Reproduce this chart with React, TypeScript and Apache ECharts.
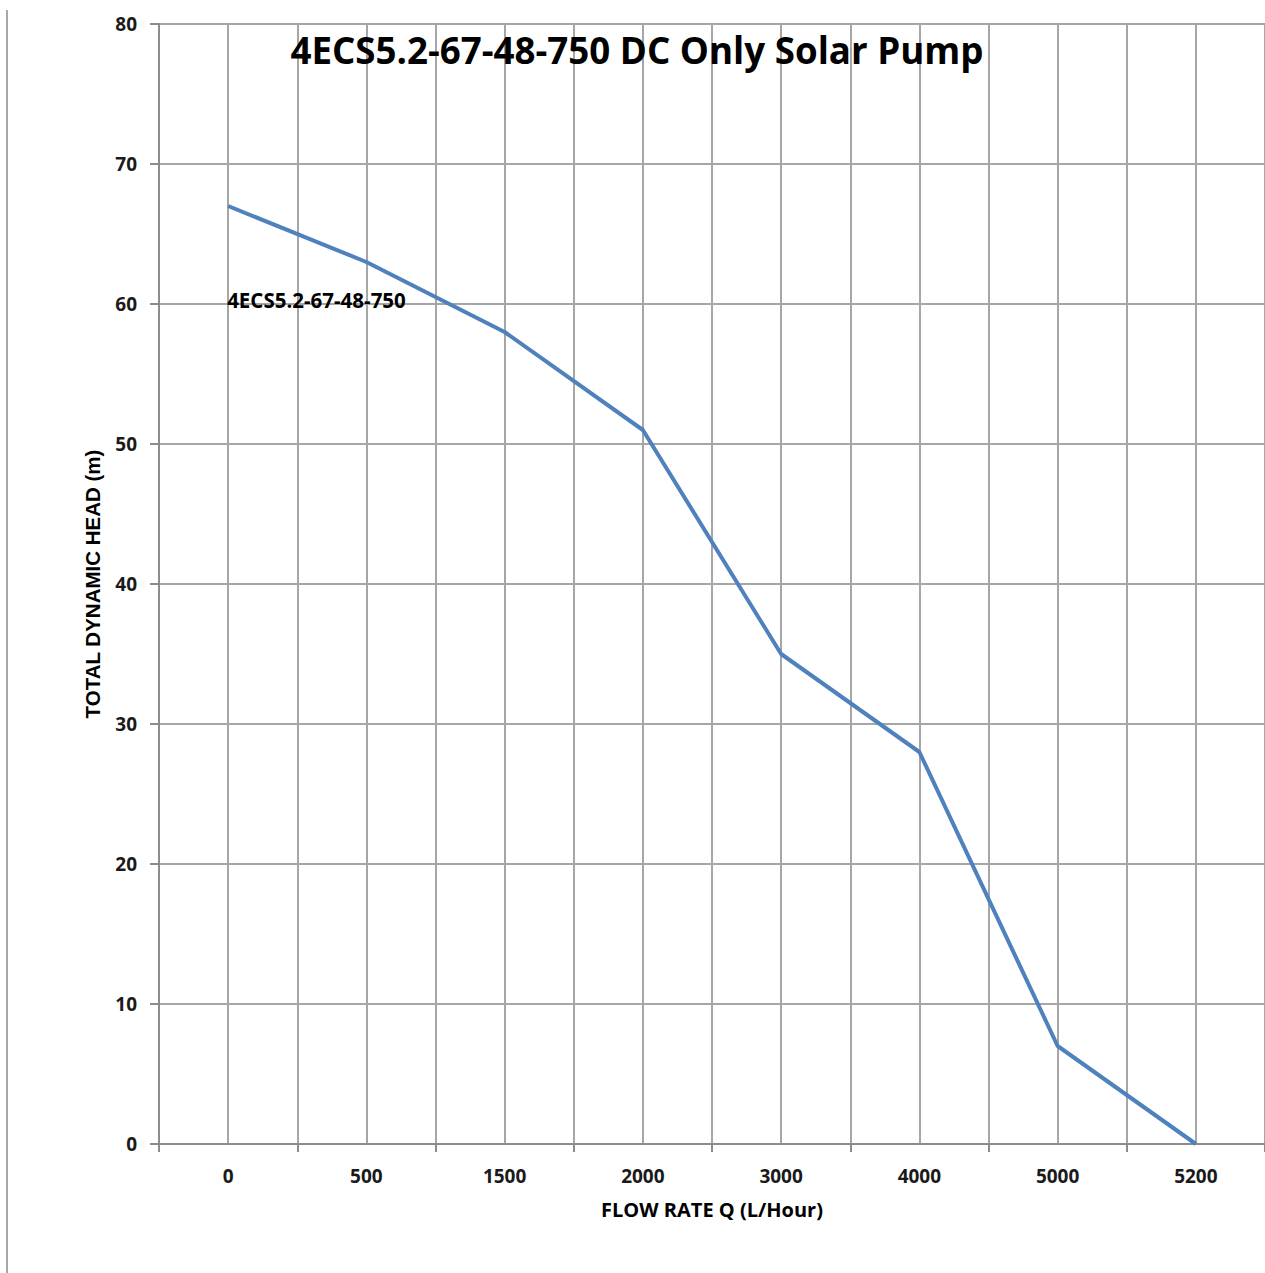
import React, { useEffect, useRef } from "react";
import * as echarts from "echarts";

const flowLabels = ["0", "500", "1500", "2000", "3000", "4000", "5000", "5200"];
const headValues = [67, 63, 58, 51, 35, 28, 7, 0];
const seriesName = "4ECS5.2-67-48-750";
const titleText = "4ECS5.2-67-48-750 DC Only Solar Pump";
const xName = "FLOW RATE Q (L/Hour)";
const yName = "TOTAL DYNAMIC HEAD (m)";

export default function App() {
  const ref = useRef<HTMLDivElement>(null);
  useEffect(() => {
    const chart = echarts.init(ref.current!, undefined, { renderer: "svg" });
    const gridColor = "#a6a6a6";
    const labelFont = { fontFamily: "Open Sans", fontWeight: "bold" as const, fontSize: 19, color: "#1a1a1a" };
    chart.setOption({
      animation: false,
      backgroundColor: "#ffffff",
      title: {
        text: titleText,
        left: 632,
        top: 26,
        textAlign: "center",
        textStyle: { fontFamily: "Open Sans", fontWeight: "bold", fontSize: 36.7, color: "#000" },
      },
      graphic: [
        { type: "line", shape: { x1: 7, y1: 10, x2: 7, y2: 1273 }, style: { stroke: "#a9a9a9", lineWidth: 2 } },
      ],
      grid: { left: 159, right: -1, top: 24, bottom: 129, containLabel: false },
      xAxis: [
        {
          type: "category",
          data: flowLabels,
          boundaryGap: true,
          axisLine: { show: true, lineStyle: { color: "#8c8c8c", width: 2 } },
          axisTick: { show: true, length: 8, lineStyle: { color: "#8c8c8c", width: 2 } },
          axisLabel: { ...labelFont, margin: 22 },
          splitLine: { show: false },
          name: xName,
          nameLocation: "middle",
          nameGap: 55,
          nameTextStyle: { fontFamily: "Open Sans", fontWeight: "bold", fontSize: 20, color: "#000" },
        },
        {
          type: "value",
          min: 0,
          max: flowLabels.length * 2,
          interval: 1,
          show: true,
          position: "bottom",
          axisLine: { show: false },
          axisTick: { show: false },
          axisLabel: { show: false },
          splitLine: { show: true, lineStyle: { color: gridColor, width: 2 } },
        },
      ],
      yAxis: {
        type: "value",
        min: 0,
        max: 80,
        interval: 10,
        axisLine: { show: true, lineStyle: { color: "#8c8c8c", width: 2 } },
        axisTick: { show: true, length: 9, lineStyle: { color: "#8c8c8c", width: 2 } },
        axisLabel: { ...labelFont, margin: 22 },
        splitLine: { show: true, lineStyle: { color: gridColor, width: 2 } },
        name: yName,
        nameLocation: "middle",
        nameGap: 56,
        nameRotate: 90,
        nameTextStyle: { fontFamily: "Liberation Sans", fontWeight: "bold", fontSize: 20.5, color: "#000" },
      },
      series: [
        {
          type: "line",
          name: seriesName,
          xAxisIndex: 0,
          data: headValues,
          showSymbol: false,
          symbol: "none",
          lineStyle: { color: "#4f81bd", width: 4 },
          markPoint: {
            symbol: "circle",
            symbolSize: 0,
            data: [{ coord: [flowLabels[0], 60] }],
            label: {
              show: true,
              position: "right",
              distance: 0,
              offset: [-1, -4],
              formatter: seriesName,
              fontFamily: "Open Sans",
              fontWeight: "bold",
              fontSize: 20.5,
              color: "#000",
            },
          },
        },
      ],
    });
    return () => chart.dispose();
  }, []);
  return <div ref={ref} style={{ position: "absolute", left: 0, top: 0, width: 1265, height: 1273 }} />;
}
